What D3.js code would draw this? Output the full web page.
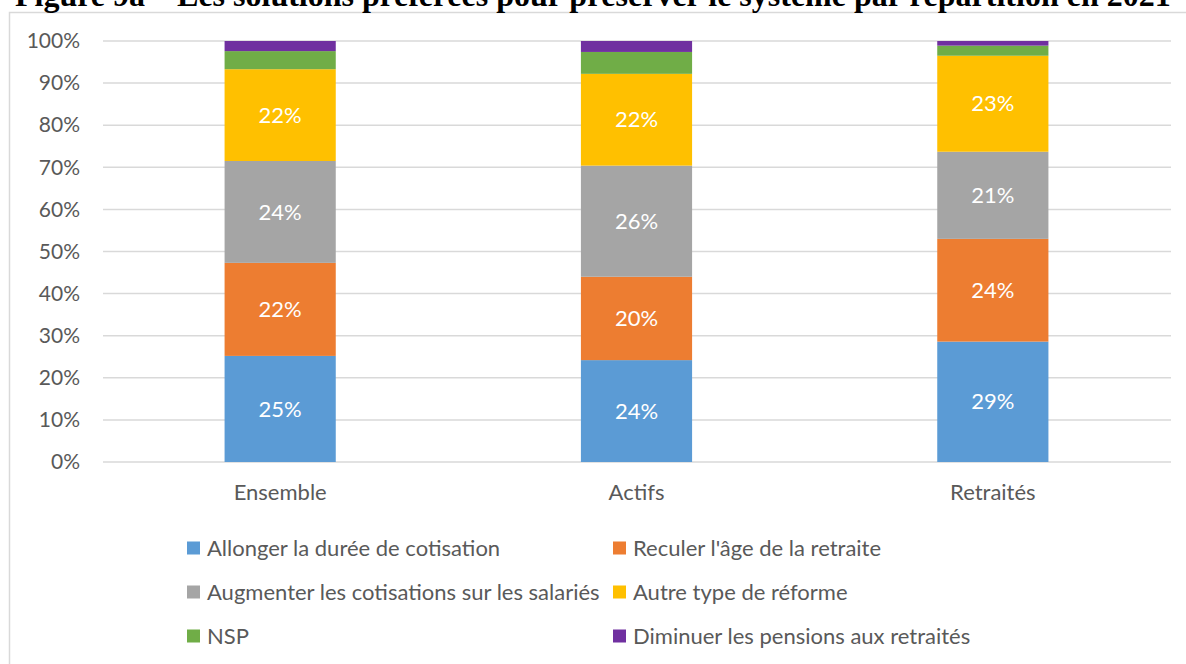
<!DOCTYPE html>
<html>
<head>
<meta charset="utf-8">
<script src="https://cdn.jsdelivr.net/npm/d3@7"></script>
<style>
  html, body { margin: 0; padding: 0; background: #fff; }
  svg { display: block; }
</style>
</head>
<body>
<svg id="chart" width="1186" height="664"></svg>
<script>
const title = "Figure 9a – Les solutions préférées pour préserver le système par répartition en 2021";
const categories = ["Ensemble", "Actifs", "Retraités"];
const seriesNames = [
  "Allonger la durée de cotisation",
  "Reculer l'âge de la retraite",
  "Augmenter les cotisations sur les salariés",
  "Autre type de réforme",
  "NSP",
  "Diminuer les pensions aux retraités"
];
const allonger  = [25.2, 24.2, 28.6];
const reculer   = [22.1, 19.8, 24.4];
const augmenter = [24.2, 26.4, 20.7];
const autre     = [21.8, 21.8, 22.8];
const nsp       = [4.3, 5.2, 2.4];
const diminuer  = [2.4, 2.6, 1.1];
const labelledSeries = [true, true, true, true, false, false];
const yTicks = [0, 10, 20, 30, 40, 50, 60, 70, 80, 90, 100];
const colors = ["#5B9BD5", "#ED7D31", "#A5A5A5", "#FFC000", "#70AD47", "#7030A0"];

const seriesValues = [allonger, reculer, augmenter, autre, nsp, diminuer];
const rows = categories.map((c, i) => {
  const r = { cat: c };
  seriesNames.forEach((s, j) => r[s] = seriesValues[j][i]);
  return r;
});

const svg = d3.select("#chart");
const font = "Lato, 'Open Sans', sans-serif";
const textColor = "#595959";

// chart border
svg.append("rect").attr("x", 9.5).attr("y", 12.5).attr("width", 1200).attr("height", 700)
  .attr("fill", "none").attr("stroke", "#d9d9d9").attr("stroke-width", 1.5);

// title (cropped at top, as in the reference)
svg.append("text").attr("x", 15).attr("y", 6)
  .attr("font-family", "'Liberation Serif', 'Times New Roman', serif")
  .attr("font-weight", "bold").attr("font-size", 32).attr("fill", "#000")
  .text(title);

const x = d3.scaleBand().domain(categories).range([102, 1171])
  .paddingInner(0.688).paddingOuter(0.344);
const y = d3.scaleLinear().domain([0, 100]).range([462, 41]);

// gridlines
svg.append("g").selectAll("line").data(yTicks).join("line")
  .attr("x1", 103).attr("x2", 1171)
  .attr("y1", d => y(d)).attr("y2", d => y(d))
  .attr("stroke", "#d9d9d9").attr("stroke-width", 1.5);

// y axis
const yAxis = svg.append("g").attr("transform", "translate(84,0)")
  .call(d3.axisLeft(y).tickValues(yTicks).tickFormat(d => d + "%").tickSize(0).tickPadding(4));
yAxis.select(".domain").remove();
yAxis.selectAll("text").attr("font-family", font).attr("font-size", 21).attr("fill", textColor);

// stacked bars
const stack = d3.stack().keys(seriesNames)(rows);
const layers = svg.append("g").selectAll("g").data(stack).join("g")
  .attr("fill", (d, i) => colors[i]);
layers.selectAll("rect").data(d => d).join("rect")
  .attr("x", d => x(d.data.cat))
  .attr("width", x.bandwidth())
  .attr("y", d => y(d[1]))
  .attr("height", d => y(d[0]) - y(d[1]));

// value labels
stack.forEach((layer, i) => {
  if (!labelledSeries[i]) return;
  svg.append("g").selectAll("text").data(layer).join("text")
    .attr("x", d => x(d.data.cat) + x.bandwidth() / 2)
    .attr("y", d => (y(d[0]) + y(d[1])) / 2)
    .attr("dy", "0.35em")
    .attr("text-anchor", "middle")
    .attr("font-family", font).attr("font-size", 22).attr("fill", "#fff")
    .text(d => Math.round(d.data[seriesNames[i]]) + "%");
});

// x axis
const xAxis = svg.append("g").attr("transform", "translate(0,462)")
  .call(d3.axisBottom(x).tickSize(0).tickPadding(22));
xAxis.select(".domain").remove();
xAxis.selectAll("text").attr("font-family", font).attr("font-size", 22).attr("fill", textColor);

// legend
const legendCols = [187, 613];
const legendRows = [548, 592, 636];
const leg = svg.append("g").selectAll("g").data(seriesNames).join("g")
  .attr("transform", (d, i) => `translate(${legendCols[i % 2]},${legendRows[Math.floor(i / 2)]})`);
leg.append("rect").attr("x", 0).attr("y", -6.5).attr("width", 13).attr("height", 13)
  .attr("fill", (d, i) => colors[i]);
leg.append("text").attr("x", 20).attr("dy", "0.35em")
  .attr("font-family", font).attr("font-size", 22).attr("fill", textColor)
  .text(d => d);
</script>
</body>
</html>
